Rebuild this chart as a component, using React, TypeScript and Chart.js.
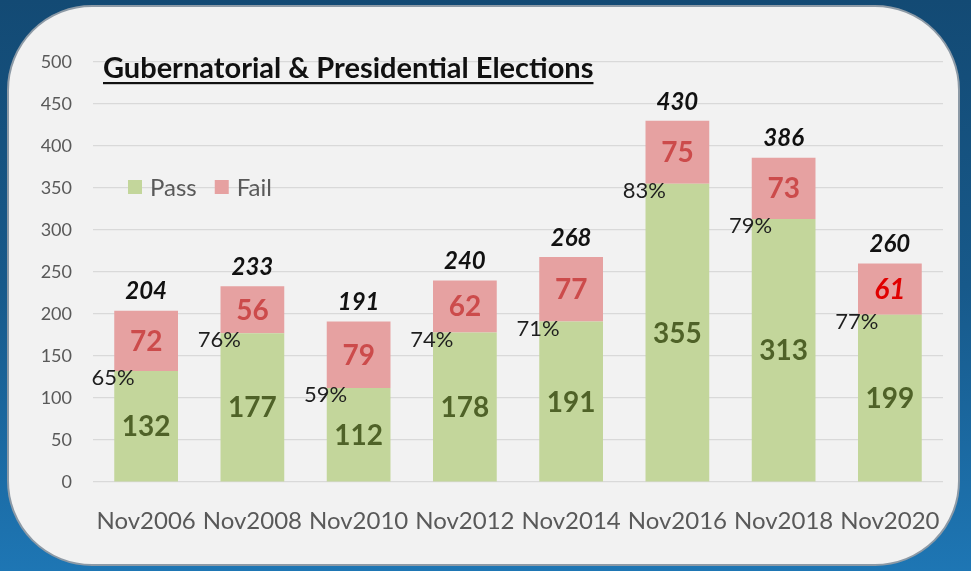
import React, { useEffect, useRef } from "react";
import { Chart, registerables } from "chart.js";

Chart.register(...registerables);

const categories = ["Nov2006", "Nov2008", "Nov2010", "Nov2012", "Nov2014", "Nov2016", "Nov2018", "Nov2020"];
const passValues = [132, 177, 112, 178, 191, 355, 313, 199];
const failValues = [72, 56, 79, 62, 77, 75, 73, 61];
const totalLabels = ["204", "233", "191", "240", "268", "430", "386", "260"];
const passPercentLabels = ["65%", "76%", "59%", "74%", "71%", "83%", "79%", "77%"];
const failHighlighted = [false, false, false, false, false, false, false, true];
const yTickValues = [0, 50, 100, 150, 200, 250, 300, 350, 400, 450, 500];
const chartTitle = "Gubernatorial & Presidential Elections";
const seriesNames = ["Pass", "Fail"];

const FONT = "Lato, 'Open Sans', sans-serif";
const PASS_COLOR = "#c3d69b";
const FAIL_COLOR = "#e6a1a1";

const labelPlugin = {
  id: "customLabels",
  afterDatasetsDraw(chart: any) {
    const ctx = chart.ctx;
    const passMeta = chart.getDatasetMeta(0);
    const failMeta = chart.getDatasetMeta(1);
    ctx.save();
    ctx.textAlign = "center";
    ctx.textBaseline = "middle";
    passMeta.data.forEach((bar: any, i: number) => {
      const f = failMeta.data[i];
      // pass value
      ctx.font = `bold 28px ${FONT}`;
      ctx.fillStyle = "#4f6228";
      ctx.fillText(String(passValues[i]), bar.x, (bar.y + bar.base) / 2 + 1);
      // fail value
      if (failHighlighted[i]) {
        ctx.font = `italic bold 28px ${FONT}`;
        ctx.fillStyle = "#e00000";
      } else {
        ctx.font = `bold 28px ${FONT}`;
        ctx.fillStyle = "#cc4b4b";
      }
      ctx.fillText(String(failValues[i]), f.x, (f.y + f.base) / 2 + 1);
      // total
      ctx.font = `italic bold 24px ${FONT}`;
      ctx.fillStyle = "#111111";
      ctx.fillText(totalLabels[i], f.x, f.y - 19);
      // percent
      ctx.font = `22px ${FONT}`;
      ctx.fillStyle = "#1e1e1e";
      ctx.fillText(passPercentLabels[i], bar.x - 33, bar.y + 7);
    });
    ctx.restore();
  },
  afterDraw(chart: any) {
    const ctx = chart.ctx;
    ctx.save();
    // title
    ctx.font = `bold 29px ${FONT}`;
    ctx.fillStyle = "#111111";
    ctx.textAlign = "left";
    ctx.textBaseline = "alphabetic";
    const tx = 103;
    const ty = 78;
    ctx.fillText(chartTitle, tx, ty);
    const w = ctx.measureText(chartTitle).width;
    ctx.fillRect(tx, ty + 4, w, 2.2);
    // legend
    const colors = [PASS_COLOR, FAIL_COLOR];
    let lx = 128;
    const ly = 187;
    ctx.font = `24px ${FONT}`;
    ctx.textBaseline = "middle";
    seriesNames.forEach((name, k) => {
      ctx.fillStyle = colors[k];
      ctx.fillRect(lx, ly - 7, 14, 14);
      ctx.fillStyle = "#595959";
      ctx.fillText(name, lx + 22, ly + 1);
      lx += 22 + ctx.measureText(name).width + 18;
    });
    ctx.restore();
  },
};

export default function App() {
  const canvasRef = useRef<HTMLCanvasElement | null>(null);

  useEffect(() => {
    if (!canvasRef.current) return;
    const chart = new Chart(canvasRef.current, {
      type: "bar",
      data: {
        labels: categories,
        datasets: [
          { label: seriesNames[0], data: passValues, backgroundColor: PASS_COLOR, borderWidth: 0, barPercentage: 0.6, categoryPercentage: 1 },
          { label: seriesNames[1], data: failValues, backgroundColor: FAIL_COLOR, borderWidth: 0, barPercentage: 0.6, categoryPercentage: 1 },
        ],
      },
      options: {
        responsive: false,
        animation: false,
        layout: { padding: { top: 62, right: 28, left: 0, bottom: 0 } },
        plugins: {
          legend: { display: false },
          title: { display: false },
          tooltip: { enabled: false },
        },
        scales: {
          x: {
            stacked: true,
            grid: { display: false, drawTicks: false },
            border: { display: false },
            ticks: { color: "#595959", font: { family: FONT, size: 24 }, padding: 25, maxRotation: 0, autoSkip: false },
            afterFit(scale: any) {
              scale.height = 89;
            },
          },
          y: {
            stacked: true,
            min: 0,
            max: 500,
            afterBuildTicks(scale: any) {
              scale.ticks = yTickValues.map((v) => ({ value: v }));
            },
            grid: { color: "#d9d9d9", lineWidth: 1.2, drawTicks: false },
            border: { display: false },
            ticks: { color: "#595959", font: { family: FONT, size: 18 }, padding: 21 },
            afterFit(scale: any) {
              scale.width = 93;
            },
          },
        },
      },
      plugins: [labelPlugin],
    });
    return () => chart.destroy();
  }, []);

  return (
    <div
      style={{
        position: "fixed",
        left: 0,
        top: 0,
        width: 971,
        height: 571,
        background: "linear-gradient(to bottom, #134a74 0%, #17598a 50%, #1e76b4 100%)",
        overflow: "hidden",
      }}
    >
      <div
        style={{
          position: "absolute",
          left: 7,
          top: 5,
          width: 953,
          height: 561,
          borderRadius: 85,
          background: "#f2f2f2",
          border: "2px solid #8d9aa6",
          boxSizing: "border-box",
        }}
      />
      <canvas
        ref={canvasRef}
        width={971}
        height={571}
        style={{ position: "absolute", left: 0, top: 0, width: 971, height: 571 }}
      />
    </div>
  );
}
